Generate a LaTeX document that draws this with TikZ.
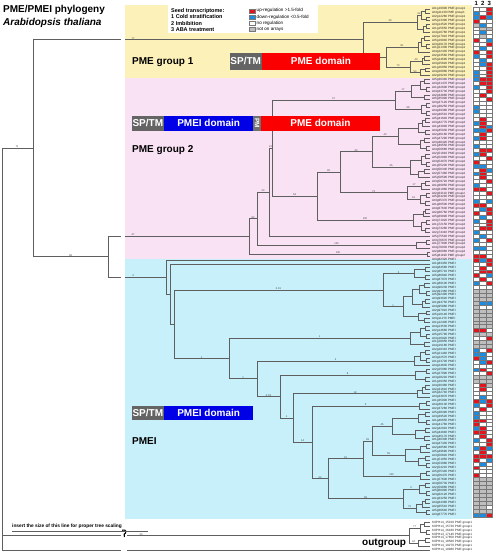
\documentclass[tikz,border=0pt]{standalone}
\usepackage{fontspec}
\setmainfont{Liberation Sans}
\usetikzlibrary{calc}
\definecolor{bgyel}{RGB}{252,241,184}
\definecolor{bgpink}{RGB}{250,226,245}
\definecolor{bgcyan}{RGB}{200,240,250}
\definecolor{brc}{RGB}{95,95,95}
\definecolor{hmr}{RGB}{226,20,30}
\definecolor{hmb}{RGB}{30,140,220}
\definecolor{hmw}{RGB}{255,255,255}
\definecolor{hmg}{RGB}{190,190,190}
\definecolor{gridc}{RGB}{120,120,120}
\definecolor{spgray}{RGB}{100,100,100}
\definecolor{domred}{RGB}{250,0,0}
\definecolor{domblue}{RGB}{0,0,230}
\definecolor{pmc}{RGB}{112,112,112}
\tikzset{
  br/.style={draw=brc, line width=0.6pt},
  bs/.style={font=\fontsize{2.6}{2.6}\selectfont, text=black!75, inner sep=0.3pt, anchor=south},
  leaflab/.style={font=\fontsize{3.1}{3.1}\selectfont, anchor=west, inner sep=0pt, text=black!85},
  grp/.style={font=\fontsize{10}{12}\selectfont\bfseries, anchor=west, inner sep=0pt},
  dom/.style={inner sep=0pt, text=white, font=\fontsize{10}{12}\selectfont\bfseries},
  hmcell/.style={draw=gridc, line width=0.25pt},
  legt/.style={font=\fontsize{5.5}{6}\selectfont\bfseries, anchor=west, inner sep=0pt},
  legr/.style={font=\fontsize{4.6}{5}\selectfont, anchor=west, inner sep=0pt}
}
\newcommand\TN[4]{%
  \coordinate (tmp#1) at ($(#3)!0.5!(#4)$);
  \coordinate (#1) at (#2,0 |- tmp#1);
  \draw[br] (#1) |- (#3) (#1) |- (#4);}
\newcommand\TB[3]{\node[bs] at ($(#1 |- #2)!0.5!(#2)$) {#3};}
\def\hmrow#1#2#3\relax{%
  \filldraw[hmcell, fill=hm#1] (473,\hi-0.5) rectangle (479.5,\hi+0.5);
  \filldraw[hmcell, fill=hm#2] (479.5,\hi-0.5) rectangle (486,\hi+0.5);
  \filldraw[hmcell, fill=hm#3] (486,\hi-0.5) rectangle (492.5,\hi+0.5);}
\begin{document}
\begin{tikzpicture}[x=1pt, y=-1pt]
\useasboundingbox (0,0) rectangle (496,555);
\fill[white] (0,0) rectangle (496,555);
% backgrounds
\fill[bgyel] (125,5) rectangle (472,78);
\fill[bgpink] (125,78) rectangle (472,259);
\fill[bgcyan] (125,259) rectangle (472,519);
\fill[white] (168,5) rectangle (318,33);

\begin{scope}[y=-3.92pt, shift={(0,-9pt)}]
\foreach \r in {0,...,138}{\coordinate (L\r) at (430,\r);}
% ---------- PME group 1
\TN{a1}{425}{L0}{L1}
\TN{a2}{426}{L2}{L3}
\TN{a12}{421}{a1}{a2}
\TN{a3}{426}{L4}{L5}
\TN{a34}{423}{a3}{L6}
\TN{aA}{417}{a12}{a34}
\TN{b1}{424}{L7}{L8}
\TN{b2}{426}{L9}{L10}
\TN{b12}{421}{b1}{b2}
\TN{bA}{418}{b12}{L11}
\TN{c1}{424}{L12}{L13}
\TN{c2}{422}{c1}{L14}
\TN{c3}{425}{L15}{L16}
\TN{c4}{420}{c3}{L17}
\TN{c5}{410}{c2}{c4}
\TN{bB}{386}{bA}{c5}
\TN{g1}{363}{aA}{bB}
% ---------- PME group 2
\TN{e1}{424}{L18}{L19}
\TN{e2}{426}{L20}{L21}
\TN{e3}{420}{e1}{e2}
\TN{e4}{424}{L22}{L23}
\TN{E1}{411}{e3}{e4}
\TN{e5}{426}{L24}{L25}
\TN{e6}{426}{L26}{L27}
\TN{E2}{421}{e5}{e6}
\TN{E}{395}{E1}{E2}
\TN{h1}{425}{L28}{L29}
\TN{h2}{422}{h1}{L30}
\TN{h3}{425}{L31}{L32}
\TN{h4}{418}{h2}{h3}
\TN{h5}{424}{L33}{L34}
\TN{h6}{426}{L35}{L36}
\TN{h7}{420}{h5}{h6}
\TN{HU}{398}{h4}{h7}
\TN{h8}{425}{L37}{L38}
\TN{h9}{426}{L39}{L40}
\TN{h10}{421}{h8}{h9}
\TN{h11}{424}{L41}{L42}
\TN{h12}{418}{h11}{L43}
\TN{HL}{410}{h10}{h12}
\TN{H}{372}{HU}{HL}
\TN{i1}{425}{L44}{L45}
\TN{i2}{421}{i1}{L46}
\TN{i3}{426}{L47}{L48}
\TN{i4}{425}{L49}{L50}
\TN{i5}{420}{i3}{i4}
\TN{I}{407}{i2}{i5}
\TN{G}{340}{H}{I}
\TN{f1}{425}{L51}{L52}
\TN{f2}{423}{f1}{L53}
\TN{f3}{426}{L54}{L55}
\TN{f4}{425}{L56}{L57}
\TN{f5}{421}{f3}{f4}
\TN{FL}{413}{f2}{f5}
\TN{F}{317}{G}{FL}
\TN{D}{272}{E}{F}
\TN{C}{269}{D}{L58}
\TN{bl1}{426}{L59}{L60}
\TN{BL}{416}{bl1}{L61}
\TN{B}{257}{C}{BL}
\TN{AL}{427}{L62}{L63}
\TN{A}{249}{B}{AL}
% ---------- PMEI
\TN{m1}{425}{L66}{L67}
\TN{m2}{425}{L68}{L69}
\TN{M1}{414}{m1}{m2}
\TN{m3}{424}{L70}{L71}
\TN{m4}{426}{L72}{L73}
\TN{m5}{419}{m3}{m4}
\TN{m6}{425}{L74}{L75}
\TN{m7}{422}{m6}{L76}
\TN{m8}{412}{m5}{m7}
\TN{m9}{426}{L77}{L78}
\TN{m10}{424}{L79}{L80}
\TN{m11}{418}{m9}{m10}
\TN{M2}{403}{m8}{m11}
\TN{M}{383}{M1}{M2}
\TN{n1}{425}{L81}{L82}
\TN{n2}{426}{L83}{L84}
\TN{n3}{420}{n1}{n2}
\TN{n4}{424}{L85}{L86}
\TN{NU}{410}{n3}{n4}
\TN{o1}{425}{L87}{L88}
\TN{o2}{426}{L89}{L90}
\TN{o3}{420}{o1}{o2}
\TN{OU}{414}{o3}{L91}
\TN{p1}{426}{L92}{L93}
\TN{p2}{425}{L94}{L95}
\TN{PU}{415}{p1}{p2}
\TN{q1}{425}{L96}{L97}
\TN{q2}{422}{q1}{L98}
\TN{QU}{417}{q2}{L99}
\TN{r1}{426}{L100}{L101}
\TN{RU}{419}{r1}{L102}
\TN{v1}{425}{L103}{L104}
\TN{v2}{426}{L105}{L106}
\TN{v3}{418}{v1}{v2}
\TN{v4}{425}{L107}{L108}
\TN{v5}{424}{L109}{L110}
\TN{v6}{415}{v4}{v5}
\TN{V1}{392}{v3}{v6}
\TN{v7}{426}{L111}{L112}
\TN{v8}{420}{v7}{L113}
\TN{v9}{425}{L114}{L115}
\TN{v10}{426}{L116}{L117}
\TN{v11}{418}{v9}{v10}
\TN{V2}{405}{v8}{v11}
\TN{V}{372}{V1}{V2}
\TN{t1}{426}{L118}{L119}
\TN{TL}{420}{t1}{L120}
\TN{T}{363}{V}{TL}
\TN{u1}{425}{L121}{L122}
\TN{u2}{426}{L123}{L124}
\TN{u3}{419}{u1}{u2}
\TN{u4}{425}{L125}{L126}
\TN{u5}{422}{u4}{L127}
\TN{u6}{426}{L128}{L129}
\TN{u7}{416}{u5}{u6}
\TN{U}{403}{u3}{u7}
\TN{S}{328}{T}{U}
\TN{R}{312}{RU}{S}
\TN{Q}{293}{QU}{R}
\TN{P}{280}{PU}{Q}
\TN{O}{257}{OU}{P}
\TN{N}{229}{NU}{O}
\TN{L}{174}{M}{N}
\TN{K}{170}{L65}{L}
\TN{J}{166}{L64}{K}
% ---------- outgroup
\TN{og1}{424}{L131}{L132}
\TN{og2}{426}{L133}{L134}
\TN{og3}{420}{og1}{og2}
\TN{og4}{425}{L135}{L136}
\TN{og5}{418}{og4}{L137}
\TN{OG}{409}{og3}{og5}
% ---------- backbone
\TN{X}{108}{A}{J}
\TN{Y}{33}{g1}{X}
\coordinate (R0) at (2,0 |- Y);
\draw[br] (R0) -- (Y);
\draw[br] (R0) |- (OG);
\draw[br] (R0) |- (L138);
% ---------- support values
\node[bs] at (17,0 |- Y) {71};
\TB{Y}{X}{98}
\node[bs] at (133,0 |- g1) {77};
\node[bs] at (133,0 |- A) {47};
\node[bs] at (133,0 |- J) {4};
\TB{g1}{aA}{49}
\TB{g1}{bB}{22}
\TB{bB}{bA}{81}
\TB{bB}{c5}{73}
\TB{c5}{c2}{40}
\TB{c5}{c4}{54}
\TB{aA}{a12}{64}
\TB{A}{B}{84}
\TB{A}{AL}{100}
\TB{B}{C}{24}
\TB{B}{BL}{100}
\TB{C}{D}{21}
\TB{D}{E}{37}
\TB{D}{F}{54}
\TB{F}{G}{45}
\TB{F}{FL}{100}
\TB{G}{H}{43}
\TB{G}{I}{73}
\TB{H}{HU}{40}
\TB{H}{HL}{45}
\TB{E}{E1}{17}
\TB{E}{E2}{98}
\TB{I}{i2}{17}
\TB{I}{i5}{16}
\TB{L}{M}{0.01}
\TB{L}{N}{1}
\TB{N}{NU}{1}
\TB{N}{O}{1}
\TB{O}{OU}{2}
\TB{O}{P}{0.03}
\TB{P}{PU}{8}
\TB{P}{Q}{1}
\TB{Q}{QU}{18}
\TB{Q}{R}{14}
\TB{R}{RU}{3}
\TB{R}{S}{64}
\TB{S}{T}{91}
\TB{S}{U}{99}
\TB{T}{V}{49}
\TB{T}{TL}{100}
\TB{V}{V1}{45}
\TB{V}{V2}{55}
\TB{M}{M1}{3}
\TB{M}{M2}{1}
\TB{U}{u3}{9}
\TB{U}{u7}{75}
\node[bs] at (141,0 |- OG) {33};
\TB{OG}{og3}{77}
\TB{OG}{og5}{94}
% ---------- leaf labels
\foreach \r in {0,...,17}{\pgfmathtruncatemacro\chr{mod(\r*3,5)+1}\pgfmathtruncatemacro\gid{1000+mod(\r*113,8800)}
  \node[leaflab] (lab\r) at (432,\r) {At\chr g\gid0 PME group1};}
\foreach \r in {18,...,63}{\pgfmathtruncatemacro\chr{mod(\r*3,5)+1}\pgfmathtruncatemacro\gid{1000+mod(\r*113,8800)}
  \node[leaflab] (lab\r) at (432,\r) {At\chr g\gid0 PME group2};}
\foreach \r in {64,...,129}{\pgfmathtruncatemacro\chr{mod(\r*3,5)+1}\pgfmathtruncatemacro\gid{1000+mod(\r*113,8800)}
  \node[leaflab] (lab\r) at (432,\r) {At\chr g\gid0 PMEI};}
\foreach \r in {131,...,138}{\pgfmathtruncatemacro\gid{1000+mod(\r*71,8800)}
  \node[leaflab] (lab\r) at (432,\r) {K0PH14\_\gid0 PME group1};}
% ---------- heatmap
\foreach \hc [count=\hi from 0] in {wwr,bwr,brb,rww,gbw,wgg,wbw,wgw,rwb,wwr,wbw,rwr,bwr,wbw,wbr,wwr,bwr,bwr,
 brr,wrr,bwr,wwr,wrw,wwr,www,bww,bww,www,wrw,brw,wrb,bbr,wrw,brw,www,bww,wrr,brw,wwr,rww,bbw,wrb,brw,wrw,wwr,bww,rrw,wwr,www,bwb,rrw,wbr,rwr,wbw,bwr,wwr,wrr,bww,wbw,bwr,www,bbw,www,rrw,
 rbr,wwr,wrw,wrr,rwb,wrw,bwr,www,ggg,ggg,ggg,gbb,gww,ggg,ggg,ggg,ggg,ggg,rrw,ggg,wwr,ggg,ggg,bwr,bbw,rbw,wbr,www,brw,wwr,ggg,ggg,wrg,wrw,www,wbw,rbr,bwr,wrw,bww,bww,rrw,rww,brw,rrw,wrw,bwr,wwr,brb,wrw,rrr,rwb,wbw,rww,www,rww,ggg,ggg,ggg,ggg,ggg,ggg,ggg,ggw,ggg,bbr}
 {\expandafter\hmrow\hc\relax}
\end{scope}

% break in the long branches
\fill[white] (120.5,4) rectangle (124.5,521);
\fill[white] (120.5,534) rectangle (126.5,555);
\draw[line width=1.1pt] (122.2,530.2) .. controls (126.5,528.8) and (126.8,533.2) .. (124.2,534.2) -- (124.4,537);

% titles
\node[anchor=west, inner sep=0pt, font=\fontsize{10}{12}\selectfont\bfseries] (title) at (3,10) {PME/PMEI phylogeny};
\node[anchor=west, inner sep=0pt, font=\fontsize{10}{12}\selectfont\bfseries\itshape] (species) at (3,23) {Arabidopsis thaliana};

% legend
\node[legt] (lg0) at (171,10.7) {Seed transcriptome:};
\node[legt] (lg1) at (171,16.9) {1 Cold stratification};
\node[legt] (lg2) at (171,23.2) {2 Imbibition};
\node[legt] (lg3) at (171,29.4) {3 ABA treatment};
\filldraw[hmcell, fill=hmr] (249,8.7) rectangle (255,12.7);
\filldraw[hmcell, fill=hmb] (249,14.9) rectangle (255,18.9);
\filldraw[hmcell, fill=hmw] (249,21.2) rectangle (255,25.2);
\filldraw[hmcell, fill=hmg] (249,27.4) rectangle (255,31.4);
\node[legr] (lr0) at (256.5,10.7) {up-regulation >1.5-fold};
\node[legr] (lr1) at (256.5,16.9) {down-regulation <0.5-fold};
\node[legr] (lr2) at (256.5,23.2) {no regulation};
\node[legr] (lr3) at (256.5,29.4) {not on arrays};

% heatmap header
\node[font=\fontsize{6}{6}\selectfont\bfseries, inner sep=0pt] (h1) at (476.2,3.6) {1};
\node[font=\fontsize{6}{6}\selectfont\bfseries, inner sep=0pt] (h2) at (482.7,3.6) {2};
\node[font=\fontsize{6}{6}\selectfont\bfseries, inner sep=0pt] (h3) at (489.2,3.6) {3};

% group labels
\node[grp] (g1lab) at (132,62.5) {PME group 1};
\node[grp] (g2lab) at (132,150) {PME group 2};
\node[grp] (g3lab) at (132,441) {PMEI};
\node[grp] (oglab) at (362,543) {outgroup};

% domain diagrams
\node[dom, fill=spgray, minimum width=32.5pt, minimum height=17.5pt] (sp1) at (245.75,61.25) {SP/TM};
\node[dom, fill=domred, minimum width=118pt, minimum height=17.5pt] (pme1) at (321,61.25) {PME domain};

\node[dom, fill=spgray, minimum width=32.3pt, minimum height=14.7pt] (sp2) at (147.85,123.35) {SP/TM};
\node[dom, fill=domblue, minimum width=89.3pt, minimum height=14.7pt] (pmei2) at (208.65,123.35) {PMEI domain};
\node[dom, fill=pmc, minimum width=7.5pt, minimum height=14.7pt] (pm2) at (257.05,123.35) {};
\node[inner sep=0pt, text=white, font=\fontsize{6.5}{7}\selectfont\bfseries, rotate=-90] (pm2t) at (257.05,123.35) {PM};
\node[dom, fill=domred, minimum width=119.2pt, minimum height=14.7pt] (pme2) at (320.4,123.35) {PME domain};

\node[dom, fill=spgray, minimum width=32.3pt, minimum height=14.3pt] (sp3) at (147.85,412.85) {SP/TM};
\node[dom, fill=domblue, minimum width=89.3pt, minimum height=14.3pt] (pmei3) at (208.65,412.85) {PMEI domain};

% scaling note
\node[anchor=west, inner sep=0pt, font=\fontsize{4.8}{5}\selectfont\bfseries] (scl) at (12,526) {insert the size of this line for proper tree scaling};
\draw[brc, line width=0.8pt] (12,531) -- (148,531);
\end{tikzpicture}
\end{document}
